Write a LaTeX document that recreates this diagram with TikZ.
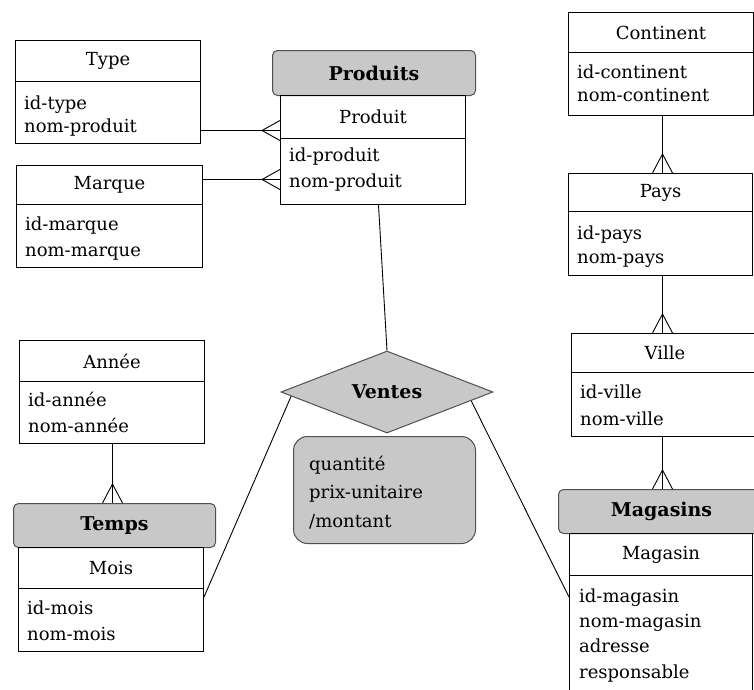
\documentclass[tikz,border=0pt]{standalone}
\usepackage{fontspec}
\setmainfont{DejaVu Serif}
\usetikzlibrary{shapes.geometric,calc}
\definecolor{hdrgray}{HTML}{C8C8C8}
\definecolor{edgegray}{HTML}{505050}
\newcommand\regf{\rmfamily\fontsize{18}{22}\selectfont}
\newcommand\boldf{\rmfamily\fontsize{19}{23}\selectfont\bfseries}
\newcommand\cfh[1]{\draw[conn] (#1) ++(-18,0) -- ++(18,-10) ++(-18,10) -- ++(18,10);}
\newcommand\cfv[1]{\draw[conn] (#1) ++(0,-19) -- ++(-10,19) ++(10,-19) -- ++(10,19);}
\begin{document}
\begin{tikzpicture}[x=1pt,y=-1pt,
 hdr/.style={draw, line width=1pt, rectangle, inner sep=0pt, anchor=north west, font=\regf},
 body/.style={draw, line width=1pt, rectangle, inner sep=0pt, anchor=north west},
 ghdr/.style={draw=edgegray, fill=hdrgray, line width=1pt, rounded corners=5pt, inner sep=0pt, anchor=north west, font=\boldf},
 attr/.style={anchor=base west, inner sep=0pt, font=\regf},
 conn/.style={line width=0.9pt}]
\useasboundingbox (0,0) rectangle (754,689);
\clip (0,0) rectangle (754,689);

% Type
\node[hdr, minimum width=185pt, minimum height=41pt] (typeH) at (15,40) {Type};
\node[body, minimum width=185pt, minimum height=62pt] (typeB) at (15,81) {};
\node[attr] (typeA1) at (24,109) {id-type};
\node[attr] (typeA2) at (24,132) {nom-produit};

% Marque
\node[hdr, minimum width=186pt, minimum height=39pt] (marqH) at (16,165) {Marque};
\node[body, minimum width=186pt, minimum height=63pt] (marqB) at (16,204) {};
\node[attr] (marqA1) at (25,230) {id-marque};
\node[attr] (marqA2) at (25,256) {nom-marque};

% Produits
\node[ghdr, minimum width=203pt, minimum height=45pt] (prodG) at (272,50) {Produits};
\node[hdr, minimum width=185pt, minimum height=43pt] (prodH) at (280,95) {Produit};
\node[body, minimum width=185pt, minimum height=66pt] (prodB) at (280,138) {};
\node[attr] (prodA1) at (289,161) {id-produit};
\node[attr] (prodA2) at (289,187) {nom-produit};

% Continent
\node[hdr, minimum width=185pt, minimum height=40pt] (contH) at (568,12) {Continent};
\node[body, minimum width=185pt, minimum height=63pt] (contB) at (568,52) {};
\node[attr] (contA1) at (577,78) {id-continent};
\node[attr] (contA2) at (577,101) {nom-continent};

% Pays
\node[hdr, minimum width=184pt, minimum height=38pt] (paysH) at (568,173) {Pays};
\node[body, minimum width=184pt, minimum height=64pt] (paysB) at (568,211) {};
\node[attr] (paysA1) at (577,239) {id-pays};
\node[attr] (paysA2) at (577,263) {nom-pays};

% Ville
\node[hdr, minimum width=187pt, minimum height=39pt] (villeH) at (571,333) {Ville};
\node[body, minimum width=187pt, minimum height=64pt] (villeB) at (571,372) {};
\node[attr] (villeA1) at (580,398) {id-ville};
\node[attr] (villeA2) at (580,425) {nom-ville};

% Magasins
\node[ghdr, minimum width=206pt, minimum height=44pt] (magG) at (558,489) {Magasins};
\node[hdr, minimum width=183pt, minimum height=42pt] (magH) at (569,533) {Magasin};
\node[body, minimum width=183pt, minimum height=125pt] (magB) at (569,575) {};
\node[attr] (magA1) at (579,602) {id-magasin};
\node[attr] (magA2) at (579,627) {nom-magasin};
\node[attr] (magA3) at (579,652) {adresse};
\node[attr] (magA4) at (579,678) {responsable};

% Annee
\node[hdr, minimum width=185pt, minimum height=41pt] (anneeH) at (19,340) {Année};
\node[body, minimum width=185pt, minimum height=62pt] (anneeB) at (19,381) {};
\node[attr] (anneeA1) at (28,406) {id-année};
\node[attr] (anneeA2) at (28,432) {nom-année};

% Temps
\node[ghdr, minimum width=202pt, minimum height=44pt] (tempsG) at (13,503) {Temps};
\node[hdr, minimum width=185pt, minimum height=41pt] (moisH) at (18,547) {Mois};
\node[body, minimum width=185pt, minimum height=63pt] (moisB) at (18,588) {};
\node[attr] (moisA1) at (27,614) {id-mois};
\node[attr] (moisA2) at (27,640) {nom-mois};

% Ventes
\node[diamond, draw=edgegray, fill=hdrgray, line width=1pt, inner sep=0pt, aspect=2.6,
      minimum width=212pt, minimum height=82pt, font=\boldf] (ventes) at (387,392) {Ventes};
\node[draw=edgegray, fill=hdrgray, line width=1pt, rounded corners=14pt, anchor=north west,
      minimum width=182pt, minimum height=107pt, inner sep=0pt] (mesures) at (293,436) {};
\node[attr] (mesA1) at (309,470) {quantité};
\node[attr] (mesA2) at (309,498) {prix-unitaire};
\node[attr] (mesA3) at (309,527) {/montant};

% Connectors
\draw[conn] ([yshift=-18pt]typeB.east) coordinate (p1) -- (p1 -| prodH.west);
\cfh{p1 -| prodH.west}
\draw[conn] ([yshift=5.5pt]marqH.east) coordinate (p2) -- (p2 -| prodB.west);
\cfh{p2 -| prodB.west}
\draw[conn] ([xshift=5.5pt]prodB.south) -- (ventes.north);
\draw[conn] ($(ventes.west)!0.1!(ventes.south)$) -- ([yshift=-9pt]moisB.north east);
\draw[conn] ($(ventes.east)!0.21!(ventes.south)$) -- ([yshift=-22pt]magB.north west);
\draw[conn] ([xshift=1.5pt]contB.south) coordinate (p3) -- (p3 |- paysH.north);
\cfv{p3 |- paysH.north}
\draw[conn] ([xshift=2pt]paysB.south) coordinate (p4) -- (p4 |- villeH.north);
\cfv{p4 |- villeH.north}
\draw[conn] ([xshift=-2.5pt]villeB.south) coordinate (p5) -- (p5 |- magG.north);
\cfv{p5 |- magG.north}
\draw[conn] ([xshift=0.5pt]anneeB.south) coordinate (p6) -- (p6 |- tempsG.north);
\cfv{p6 |- tempsG.north}
\end{tikzpicture}
\end{document}
